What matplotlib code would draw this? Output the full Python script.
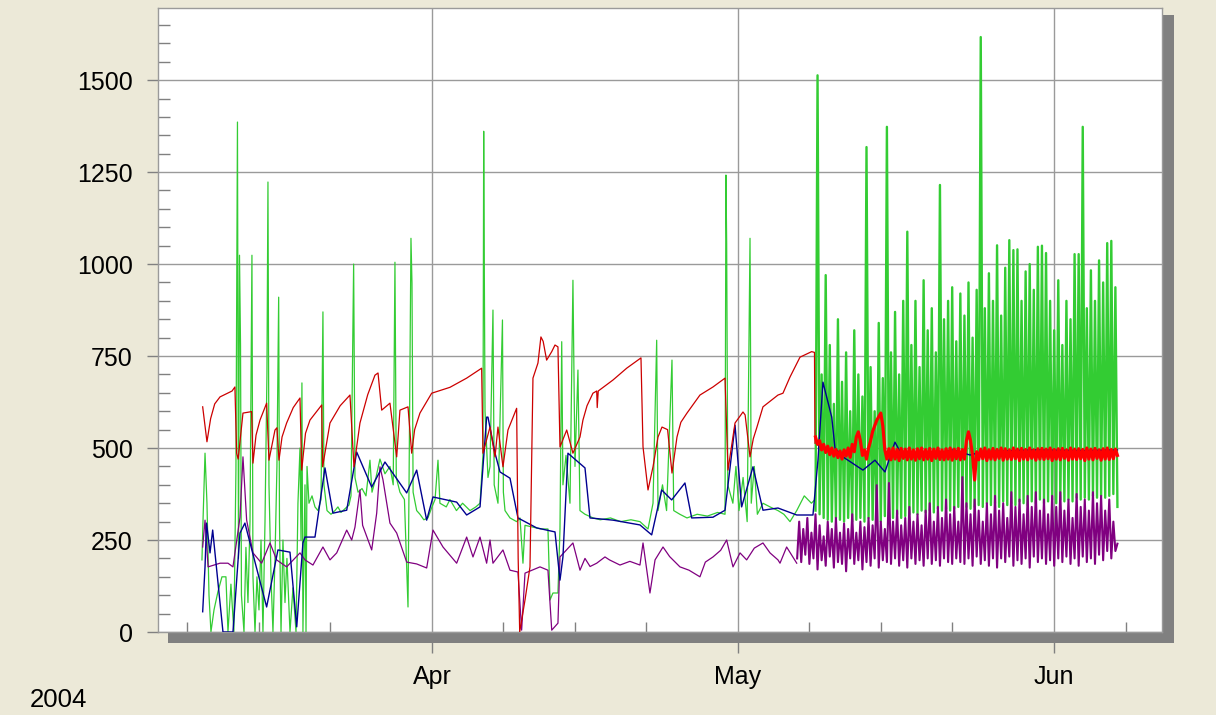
import matplotlib
matplotlib.use("Agg")
import matplotlib.pyplot as plt
import matplotlib.dates as mdates
from matplotlib.patches import Rectangle
from matplotlib.ticker import MultipleLocator
import numpy as np
from datetime import datetime

# ---------------- data (days since 2004-03-01, values) ----------------
year_label = "2004"
y_ticks = [0, 250, 500, 750, 1000, 1250, 1500]

green_early_days = [8.45, 8.55, 8.75, 8.94, 9.14, 9.33, 9.63, 10.02, 10.41, 10.80, 11.00, 11.29, 11.58, 11.78,
                    11.93, 12.03, 12.13, 12.23, 12.32, 12.57, 12.76, 12.96, 13.16, 13.35, 13.45, 13.65, 13.84,
                    14.04, 14.24, 14.43, 14.63, 14.82, 14.92, 15.02, 15.22, 15.41, 15.61, 15.80, 15.97, 16.05,
                    16.20, 16.39, 16.59, 16.78, 17.08, 17.37, 17.67, 17.86, 18.06, 18.16, 18.25, 18.35, 18.55,
                    18.65, 18.75, 18.94, 19.24, 19.53, 19.82, 20.12, 20.31, 20.41, 20.71, 21.10, 21.49, 21.78,
                    22.08, 22.47, 22.86, 23.06, 23.32, 23.45, 23.75, 24.14, 24.53, 24.92, 25.12, 25.51, 25.90,
                    26.39, 26.88, 27.20, 27.37, 27.50, 27.86, 28.30, 28.65, 28.75, 28.94, 29.04, 29.15, 29.50,
                    29.82, 30.20, 30.60, 31.00, 31.30, 31.59, 31.78, 32.40, 32.76, 33.40, 34.00, 34.73, 35.30,
                    35.71, 36.00, 36.07, 36.10, 36.20, 36.49, 36.69, 36.98, 37.10, 37.47, 37.91, 38.00, 38.16,
                    38.65, 39.30, 39.63, 39.92, 40.12, 40.90, 41.68, 42.37, 42.57, 42.86, 43.35, 43.55, 43.72,
                    43.84, 44.14, 44.53, 44.82, 45.02, 45.31, 45.51, 46.00, 46.80, 47.50, 48.50, 49.50, 50.50,
                    51.39, 52.18, 52.67, 53.03, 53.16, 53.60, 54.00, 54.53, 54.70, 55.30, 56.00, 57.00, 58.00,
                    59.00, 59.73, 59.82, 59.89, 60.00, 60.50, 60.80, 61.10, 61.50, 61.90, 62.18, 62.30, 62.60,
                    62.90, 63.45, 64.14, 64.92, 65.50, 66.10, 66.76, 67.50, 68.20, 68.55]
green_early_vals = [196, 300, 486, 350, 100, 0, 60, 110, 150, 150, 0, 130, 0, 440,
                    1386, 200, 1024, 780, 100, 0, 230, 80, 300, 1024, 150, 0, 150,
                    60, 250, 0, 300, 700, 1223, 400, 150, 0, 200, 450, 910, 300,
                    0, 250, 80, 200, 0, 120, 0, 350, 500, 250, 677, 0, 400,
                    0, 450, 350, 370, 340, 330, 360, 870, 400, 330, 320, 330, 340,
                    325, 335, 345, 370, 1000, 420, 380, 390, 370, 467, 380, 420, 470,
                    430, 450, 400, 1005, 420, 380, 360, 68, 400, 1070, 948, 380, 330,
                    320, 305, 310, 340, 360, 467, 350, 340, 360, 330, 350, 330, 340,
                    350, 480, 1361, 1156, 600, 420, 450, 875, 400, 350, 848, 380, 330,
                    310, 300, 310, 187, 290, 285, 280, 280, 87, 106, 106, 280, 789,
                    400, 480, 350, 956, 450, 712, 330, 320, 310, 305, 310, 300, 305,
                    300, 280, 350, 793, 330, 400, 330, 739, 330, 320, 310, 320, 315,
                    325, 320, 1242, 1057, 400, 350, 450, 330, 420, 300, 1070, 350, 450,
                    320, 350, 340, 330, 320, 300, 330, 370, 350, 360]

# dense period, regular sampling from day 68.6 every 0.2 day
green_late_start = 68.6
green_late_vals = [330, 1513, 320, 700, 310, 970, 305, 780, 300, 620,
                   310, 850, 305, 680, 300, 760, 310, 600, 300, 820,
                   305, 700, 310, 640, 300, 1318, 310, 720, 305, 600,
                   310, 840, 300, 690, 315, 1373, 305, 760, 310, 870,
                   320, 700, 310, 900, 315, 1088, 320, 780, 325, 900,
                   320, 720, 330, 956, 325, 820, 330, 880, 325, 760,
                   335, 1215, 330, 850, 335, 900, 330, 937, 335, 790,
                   340, 920, 330, 860, 340, 950, 335, 800, 340, 930,
                   345, 1617, 340, 880, 350, 975, 345, 900, 350, 1051,
                   340, 860, 355, 990, 345, 1065, 350, 1038, 345, 1040,
                   355, 900, 350, 980, 345, 1000, 355, 930, 350, 1047,
                   360, 1050, 350, 1030, 355, 900, 360, 820, 350, 956,
                   360, 780, 355, 900, 360, 850, 355, 1027, 365, 1027,
                   360, 1373, 365, 880, 360, 983, 370, 900, 365, 1010,
                   370, 950, 365, 1057, 370, 1063, 375, 937, 340]

red_early_days = [8.52, 8.94, 9.30, 9.70, 10.22, 11.40, 11.68, 11.85, 12.00, 12.47, 13.32, 13.45, 13.75,
                  14.14, 14.79, 15.02, 15.61, 15.80, 16.00, 16.30, 16.75, 17.40, 18.06, 18.23, 18.60, 19.04,
                  20.19, 20.28, 21.00, 22.00, 22.96, 23.35, 23.94, 24.70, 25.41, 25.71, 26.07, 26.88, 27.54,
                  27.86, 28.65, 29.01, 29.30, 29.82, 30.97, 32.76, 34.40, 35.87, 36.00, 36.69, 37.18, 37.47,
                  37.96, 38.45, 39.30, 39.45, 39.60, 40.12, 40.61, 40.90, 41.39, 41.68, 41.90, 42.24, 42.74,
                  43.06, 43.35, 43.55, 44.21, 44.82, 45.51, 45.80, 46.20, 46.78, 47.15, 47.20, 47.30, 48.75,
                  50.09, 51.49, 51.69, 52.18, 52.67, 53.16, 53.55, 54.10, 54.53, 55.02, 55.40, 56.00, 57.27,
                  58.55, 59.73, 60.02, 60.71, 61.49, 61.70, 62.18, 62.50, 62.86, 63.45, 64.92, 65.41, 66.10,
                  67.08, 68.22, 68.50, 68.55]
red_early_vals = [612, 517, 580, 620, 639, 655, 666, 486, 470, 595, 599, 459, 535,
                  576, 622, 467, 549, 555, 467, 530, 568, 610, 636, 440, 540, 576,
                  617, 449, 568, 615, 644, 449, 568, 645, 698, 704, 603, 622, 476,
                  603, 612, 486, 550, 595, 649, 665, 690, 717, 486, 557, 476, 557,
                  449, 549, 608, 200, 0, 87, 177, 690, 731, 802, 790, 739, 762,
                  780, 775, 503, 549, 486, 530, 576, 615, 649, 655, 610, 655, 685,
                  717, 745, 503, 386, 449, 530, 557, 550, 432, 530, 570, 595, 644,
                  666, 690, 440, 568, 598, 590, 476, 525, 557, 612, 644, 649, 693,
                  747, 762, 760, 513]

red_late_start = 68.6
red_late_vals = [530, 510, 520, 495, 510, 488, 505, 482, 500, 478, 496, 474, 492, 470, 495, 478, 500, 475,
                 510, 490, 530, 544, 520, 480, 495, 470, 500, 520, 545, 560, 575, 585, 595, 560, 495, 470,
                 498, 468, 500, 470, 496, 466, 499, 472, 497, 468, 500, 470, 495, 467, 498, 471, 500, 468,
                 496, 470, 499, 466, 497, 472, 500, 469, 495, 468, 498, 470, 500, 467, 497, 471, 499, 468,
                 496, 470,
                 520, 544, 520, 480, 413, 490,
                 468, 497, 471, 500, 466, 495, 470, 499, 468, 496, 472, 500, 467, 498, 470, 495, 469, 500,
                 471, 497, 466, 499, 470, 496, 468, 500, 472, 495, 467, 498, 470, 499, 469, 497, 471, 500,
                 466, 496, 470, 498, 468, 499, 472, 495, 467, 500, 470, 497, 469, 498, 471, 496, 466, 500,
                 470, 497, 468, 499, 472, 495, 467, 498, 470, 500, 469, 496, 471, 497, 480]

blue_days = [8.52, 8.75, 8.90, 9.24, 9.50, 10.51, 11.49, 12.18, 12.66, 14.79, 15.90, 17.08, 17.74, 18.35,
             18.55, 19.53, 20.51, 21.29, 22.64, 23.62, 25.09, 26.39, 28.52, 29.50, 30.48, 31.10, 33.42,
             34.40, 35.71, 36.36, 36.49, 37.18, 37.67, 38.65, 39.43, 41.26, 43.06, 43.55, 43.84, 44.33,
             46.00, 46.49, 48.75, 51.39, 52.54, 53.52, 54.50, 55.80, 56.46, 58.55, 59.73, 60.71, 61.36,
             62.47, 63.45, 64.92, 66.76, 68.35, 68.84, 69.33, 70.19, 70.51, 71.29, 73.25, 74.43, 75.41,
             76.39, 77.18, 79.60, 82.08, 83.75, 85.00, 90.00, 95.00, 98.20]
blue_vals = [55, 177, 296, 215, 277, 0, 0, 269, 296, 68, 223, 217, 14, 242,
             258, 258, 446, 323, 331, 489, 394, 462, 378, 440, 304, 367, 353,
             318, 340, 584, 584, 486, 435, 418, 310, 283, 272, 141, 204, 486,
             446, 310, 304, 291, 264, 386, 359, 405, 310, 312, 331, 562, 340,
             449, 331, 337, 318, 318, 467, 679, 584, 500, 476, 440, 467, 435,
             516, 476, 480, 495, 481, 490, 495, 493, 495]

purple_early_days = [8.52, 8.75, 9.05, 10.22, 11.00, 11.49, 12.18, 12.47, 12.83, 13.45, 14.30, 15.12, 15.77,
                     16.75, 18.06, 18.55, 19.33, 20.31, 21.00, 21.66, 22.64, 23.13, 23.45, 23.94, 24.20, 25.09,
                     25.58, 25.90, 26.20, 26.88, 27.54, 28.52, 29.50, 30.48, 31.10, 32.08, 33.42, 34.40, 35.02,
                     35.71, 36.36, 36.69, 36.98, 37.96, 38.65, 39.43, 39.79, 40.12, 41.59, 42.37, 42.74, 43.35,
                     43.55, 44.82, 45.51, 46.00, 46.50, 47.15, 47.96, 48.40, 49.43, 50.40, 51.39, 51.69, 52.37,
                     52.87, 53.65, 54.30, 55.31, 56.20, 57.27, 57.80, 58.55, 59.30, 59.89, 60.51, 61.20, 61.85,
                     62.60, 63.45, 64.14, 64.92, 65.12, 65.77, 66.76]
purple_early_vals = [231, 304, 177, 187, 187, 177, 312, 476, 304, 215, 187, 242, 196,
                     177, 215, 196, 182, 231, 196, 215, 277, 250, 285, 386, 290, 223,
                     323, 449, 413, 296, 269, 190, 185, 174, 277, 231, 187, 258, 204,
                     258, 187, 250, 187, 223, 168, 163, 5, 160, 177, 168, 5, 24,
                     204, 242, 168, 200, 178, 187, 204, 196, 182, 192, 182, 242, 106,
                     196, 231, 205, 177, 168, 150, 190, 204, 222, 250, 177, 215, 196,
                     228, 242, 215, 196, 187, 231, 187]

purple_late_start = 66.8
purple_late_vals = [200, 300, 190, 280, 210, 310, 185, 270, 200, 320,
                    170, 290, 195, 260, 180, 300, 205, 280, 175, 310,
                    190, 270, 185, 295, 165, 280, 200, 320, 185, 270,
                    195, 300, 170, 285, 190, 310, 180, 290, 200, 399,
                    175, 300, 195, 280, 190, 405, 185, 300, 200, 330,
                    180, 290, 195, 310, 175, 340, 200, 300, 185, 320,
                    195, 290, 180, 330, 200, 350, 185, 300, 195, 340,
                    180, 310, 200, 360, 190, 320, 185, 340, 200, 300,
                    190, 421, 185, 350, 200, 320, 180, 360, 205, 330,
                    185, 300, 195, 350, 180, 320, 200, 370, 175, 330,
                    200, 350, 190, 310, 205, 380, 180, 340, 195, 360,
                    185, 320, 200, 370, 175, 340, 205, 380, 190, 330,
                    200, 360, 185, 320, 195, 370, 180, 340, 200, 380,
                    190, 330, 205, 360, 185, 310, 200, 375, 180, 340,
                    205, 360, 190, 330, 200, 380, 185, 350, 210, 370,
                    195, 330, 220, 360, 200, 300, 220, 240]
late_step = 0.2

# ---------------- drawing ----------------
BASE = mdates.date2num(datetime(2004, 3, 1))
def dates(days):
    return BASE + np.asarray(days, dtype=float)
def late_dates(start, vals):
    return BASE + start + late_step * np.arange(len(vals))

plt.rcParams['font.family'] = ['Liberation Sans', 'DejaVu Sans']
BG = '#ECE9D8'
GRID = '#9A9A9A'

fig = plt.figure(figsize=(12.16, 7.15), dpi=100, facecolor=BG)
W, H = 1216, 715
L, R, T, B = 158, 1162, 8, 632
ax = fig.add_axes([L / W, (H - B) / H, (R - L) / W, (B - T) / H])
ax.set_facecolor('white')

# drop shadow (right and bottom)
fig.patches.append(Rectangle(((L + 10) / W, (H - B - 11) / H), (R - L + 2) / W, (B - T + 4) / H,
                             transform=fig.transFigure, facecolor='#808080', edgecolor='none', zorder=-1))

GREEN = '#33CC33'
RED = '#CC0000'
BLUE = '#000090'
PURPLE = '#800080'

ax.plot(dates(green_early_days), green_early_vals, color=GREEN, lw=0.9, zorder=2)
ax.plot(late_dates(green_late_start, green_late_vals), green_late_vals, color=GREEN, lw=1.7, zorder=2)
ax.plot(dates(purple_early_days), purple_early_vals, color=PURPLE, lw=0.9, zorder=3)
ax.plot(late_dates(purple_late_start, purple_late_vals), purple_late_vals, color=PURPLE, lw=1.5, zorder=3)
ax.plot(dates(blue_days), blue_vals, color=BLUE, lw=1.0, zorder=4)
ax.plot(dates(red_early_days), red_early_vals, color=RED, lw=0.9, zorder=5)
ax.plot(late_dates(red_late_start, red_late_vals), red_late_vals, color='#FF0000', lw=2.3, zorder=5)

ax.set_xlim(BASE + 4.14, BASE + 102.57)
ax.set_ylim(0, 1696)

ax.xaxis.set_major_locator(mdates.MonthLocator())
ax.xaxis.set_major_formatter(mdates.DateFormatter('%b'))
ax.xaxis.set_minor_locator(mdates.DayLocator(bymonthday=[8, 15, 22]))
ax.set_yticks(y_ticks)
ax.yaxis.set_minor_locator(MultipleLocator(50))

ax.grid(True, which='major', color=GRID, lw=1.0)
ax.set_axisbelow(True)
for s in ax.spines.values():
    s.set_color(GRID)
    s.set_linewidth(1.0)

ax.tick_params(axis='y', which='major', direction='out', length=8, width=1, color='#808080',
               pad=10, labelsize=18)
ax.tick_params(axis='y', which='minor', direction='in', length=8.5, width=1, color='#808080')
ax.tick_params(axis='x', which='major', direction='out', length=15, width=1, color='#808080',
               pad=9, labelsize=18)
ax.tick_params(axis='x', which='minor', direction='in', length=7.5, width=1, color='#808080')

fig.text(30 / W, 3 / H, year_label, ha='left', va='bottom', fontsize=18.5)

fig.savefig('out.png', dpi=100, facecolor=BG)
